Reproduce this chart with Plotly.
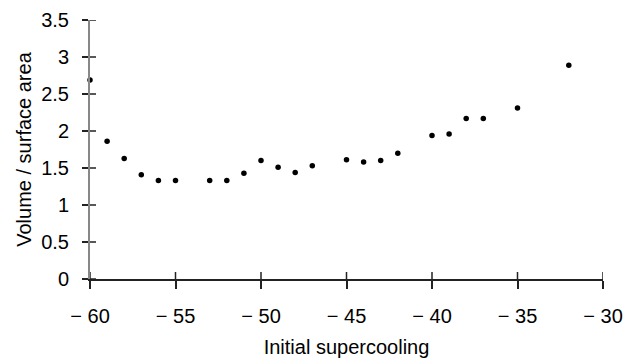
import plotly.graph_objects as go

# Data
supercooling = [-60, -59, -58, -57, -56, -55, -53, -52, -51, -50, -49, -48, -47,
                -45, -44, -43, -42, -40, -39, -38, -37, -35, -32]
vol_surface = [2.69, 1.86, 1.63, 1.41, 1.33, 1.33, 1.33, 1.33, 1.43, 1.60, 1.51, 1.44, 1.53,
               1.61, 1.58, 1.60, 1.70, 1.94, 1.96, 2.17, 2.17, 2.31, 2.89]

x_ticks = [-60, -55, -50, -45, -40, -35, -30]
x_tick_labels = ["\u2212 60", "\u2212 55", "\u2212 50", "\u2212 45", "\u2212 40", "\u2212 35", "\u2212 30"]
y_ticks = [0, 0.5, 1, 1.5, 2, 2.5, 3, 3.5]
y_tick_labels = ["0", "0.5", "1", "1.5", "2", "2.5", "3", "3.5"]

FONT = "Liberation Sans, Arial, sans-serif"

fig = go.Figure()
fig.add_trace(go.Scatter(
    x=supercooling, y=vol_surface, mode="markers",
    marker=dict(color="#000", size=5.5),
    cliponaxis=False, showlegend=False,
))

# inner halves of the crossing tick marks
shapes = []
for t in x_ticks:
    shapes.append(dict(type="line", xref="x", yref="y", ysizemode="pixel", yanchor=0,
                       x0=t, x1=t, y0=0, y1=7, line=dict(color="#222", width=1.5)))
for t in y_ticks:
    shapes.append(dict(type="line", xref="x", yref="y", xsizemode="pixel", xanchor=-60,
                       x0=0, x1=6, y0=t, y1=t, line=dict(color="#222", width=1.5)))

fig.update_layout(
    width=626, height=358,
    margin=dict(l=90, r=23, t=20, b=79, autoexpand=False),
    paper_bgcolor="white", plot_bgcolor="white",
    font=dict(family=FONT, color="#000"),
    shapes=shapes,
    xaxis=dict(
        range=[-60, -30], tickmode="array", tickvals=x_ticks, ticktext=x_tick_labels,
        showgrid=False, zeroline=False, showline=True, linecolor="#222", linewidth=1.5,
        ticks="outside", ticklen=8, tickwidth=1.5, tickcolor="#222",
        tickfont=dict(size=20, family=FONT), ticklabelstandoff=10, automargin=False,
        title=dict(text="Initial supercooling", font=dict(size=20, family=FONT), standoff=20),
    ),
    yaxis=dict(
        range=[0, 3.5], tickmode="array", tickvals=y_ticks, ticktext=y_tick_labels,
        showgrid=False, zeroline=False, showline=True, linecolor="#888", linewidth=2,
        ticks="outside", ticklen=6, tickwidth=1.5, tickcolor="#222",
        tickfont=dict(size=20, family=FONT), ticklabelstandoff=9, automargin=False,
        title=dict(text="Volume / surface area", font=dict(size=20, family=FONT), standoff=4),
    ),
)

fig.write_html("out.html", config={"displayModeBar": False},
               post_script="document.body.style.margin='0';document.body.style.overflow='hidden';")
